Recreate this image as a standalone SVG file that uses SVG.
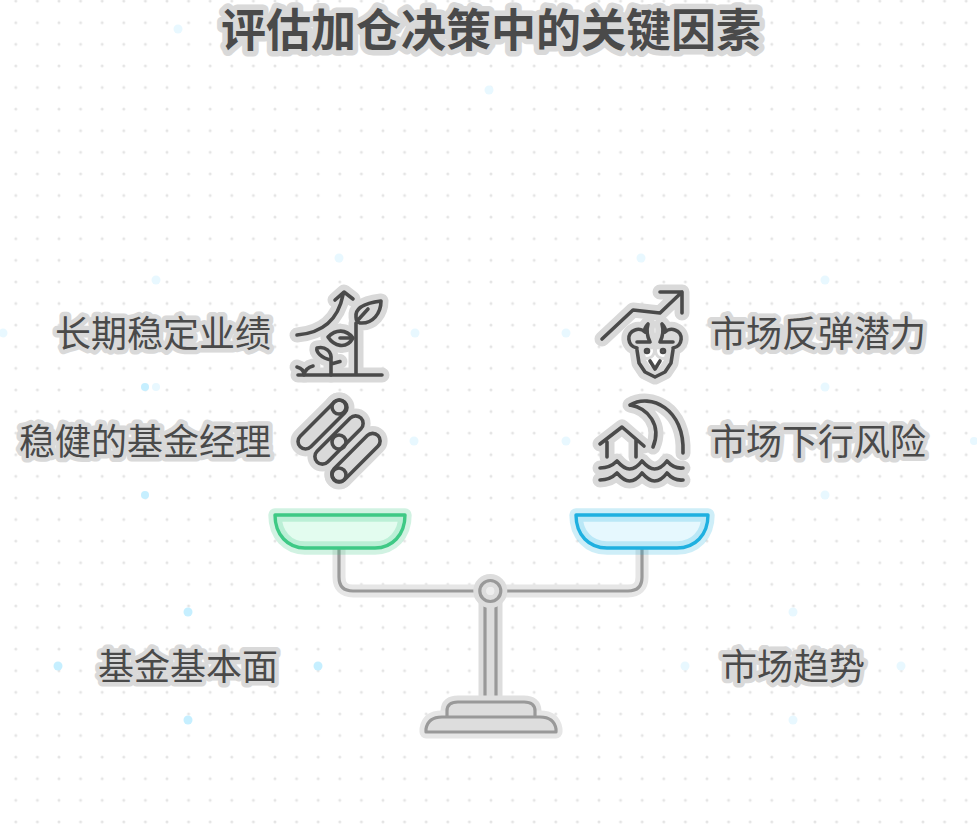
<svg xmlns="http://www.w3.org/2000/svg" width="977" height="829" viewBox="0 0 977 829">
<style>
text{font-family:"Noto Sans CJK SC","Noto Sans",sans-serif;fill:#4a4a4a;stroke:#d9d9d9;stroke-linejoin:round;paint-order:stroke;opacity:.999;}
.label{font-size:36px;stroke-width:9px;}
.title{font-size:45px;font-weight:700;stroke-width:11px;}
.shape{fill:none;stroke-linecap:round;stroke-linejoin:round;}
.halo{stroke:#d9d9d9;stroke-width:15px;}
.ink{stroke:#4a4a4a;stroke-width:3.6px;}
.gh{stroke:#e6e6e6;stroke-width:13px;}
.gi{stroke:#999;stroke-width:3.2px;}
.spark{fill:#c6efff;}
.sparkf{fill:#e8f8ff;}
</style>
<defs>
<pattern id="dots" width="21.6" height="21.6" patternUnits="userSpaceOnUse" x="5" y="1.1"><circle cx="10.8" cy="0" r="1.5" fill="#e4e4e4"/><circle cx="10.8" cy="21.6" r="1.5" fill="#e4e4e4"/></pattern>
<g id="i-plant">
<path d="M297,335 C322,333 338,320 343,295 M335,300 L344,292 L353,299"/>
<path d="M298,375 H382 M356,375 V323 M356,317 C355,308 365,303 381,301 C381,313 373,324 360,323 C357,322 356,320 356,317Z M358,320 L368,309"/>
<path d="M353,338 C346,329 336,329 328,337 C334,346 346,350 353,338Z M353,338 H340"/>
<path d="M331,375 V360 C321,358 316,352 317,348 C325,346 332,351 331,360 M331,364 L340,361.500"/>
<path d="M297,367 C301,368 304,371 304,375 C305,370 309,367 313,366"/>
</g>
<g id="i-pipes">
<rect x="291" y="417" width="63" height="15" rx="7.5" transform="rotate(-45 322.5 424.5)"/>
<rect x="308" y="432.500" width="62" height="15" rx="7.500" transform="rotate(-45 339 440)"/>
<rect x="325" y="450" width="62" height="15" rx="7.500" transform="rotate(-45 356 457.500)"/>
<circle cx="339" cy="407" r="7"/><circle cx="339" cy="442" r="7"/><circle cx="339" cy="475" r="7"/>
</g>
<g id="i-bull">
<path d="M602,339 L633,310 L660,313 L682,292 M660,292 H682 V313"/>
<path d="M637,350 L639,363 L645,372 L655,377 L665,372 L671,363 L673,350"/>
<path d="M637,348 C627,346 626,333 635,330 C640,328 644,331 645,332 C644,328 646,326 648,324 C646,331 648,338 650,342 H637"/>
<path d="M673,348 C683,346 684,333 675,330 C670,328 666,331 665,332 C666,328 664,326 662,324 C664,331 662,338 660,342 H673"/>
<circle cx="647" cy="351" r="1.500"/><circle cx="663" cy="351" r="1.500"/>
</g>
<g id="i-flood">
<path d="M630,405 C650,393 685,408 683,453 M630,405 C648,408 662,425 653,447"/>
<path d="M600,444 L622,427 L644,446 M607,442 V457 M636,440 V457"/>
<path d="M600,468 Q610,468 617,461 Q624,469 629.500,469 Q636,469 642,461 Q649,469 654.500,469 Q661,469 667,461 Q674,469 683,468"/>
<path d="M600,480 Q610,480 617,473 Q624,481 629.500,481 Q636,481 642,473 Q649,481 654.500,481 Q661,481 667,473 Q674,481 683,480"/>
</g>
</defs>
<rect width="977" height="829" fill="#fff"/>
<rect width="977" height="829" fill="url(#dots)"/>
<g id="sparkles">
<circle class="spark" cx="188" cy="612" r="4.500"/><circle class="spark" cx="188" cy="720" r="4.500"/><circle class="spark" cx="58" cy="666" r="4.500"/><circle class="spark" cx="318" cy="666" r="4.500"/>
<circle class="sparkf" cx="793" cy="612" r="4.500"/><circle class="sparkf" cx="793" cy="720" r="4.500"/><circle class="sparkf" cx="685" cy="666" r="4.500"/><circle class="sparkf" cx="901" cy="666" r="4.500"/>
<circle class="sparkf" cx="178" cy="29" r="4.500"/><circle class="sparkf" cx="489" cy="90" r="4.500"/><circle class="sparkf" cx="339" cy="258" r="4.500"/><circle class="sparkf" cx="156" cy="280" r="4.500"/><circle class="sparkf" cx="3" cy="333" r="4.500"/><circle class="sparkf" cx="415" cy="333" r="4.500"/><circle class="spark" cx="145" cy="387" r="4"/><circle class="sparkf" cx="156" cy="387" r="4"/><circle class="spark" cx="145" cy="495" r="4"/><circle class="sparkf" cx="414" cy="441" r="4.500"/><circle class="sparkf" cx="641" cy="258" r="4.500"/><circle class="sparkf" cx="566" cy="333" r="4.500"/><circle class="sparkf" cx="566" cy="441" r="4.500"/><circle class="sparkf" cx="825" cy="280" r="4.500"/><circle class="sparkf" cx="825" cy="387" r="4.500"/><circle class="sparkf" cx="825" cy="495" r="4.500"/><circle class="sparkf" cx="974" cy="441" r="4"/>
</g>
<text id="title" class="title" x="491" y="47" text-anchor="middle">评估加仓决策中的关键因素</text>
<g id="connectors">
<path class="shape gh" d="M339,548 V577 Q339,591 353,591 H628 Q642,591 642,577 V548"/>
<path class="shape gi" d="M339,548 V577 Q339,591 353,591 H628 Q642,591 642,577 V548"/>
</g>
<g id="stand">
<rect x="485" y="603" width="11" height="99" fill="#eee" stroke="#ddd" stroke-width="13" stroke-linejoin="round"/>
<rect x="485" y="603" width="11" height="99" fill="#ddd" stroke="#999" stroke-width="3.200"/>
<circle cx="490.300" cy="591" r="10.500" fill="#eee" stroke="#ddd" stroke-width="13"/>
<circle cx="490.300" cy="591" r="4" fill="#eee"/>
<circle cx="490.300" cy="591" r="10.500" fill="none" stroke="#999" stroke-width="3.200"/>
<path d="M447,716 V711 Q447,702 458,702 H524 Q535,702 535,711 V716Z" fill="#ddd" stroke="#e0e0e0" stroke-width="13" stroke-linejoin="round"/>
<path d="M426,732 V729 Q428,717 442,717 H540 Q554,717 556,729 V732Z" fill="#ddd" stroke="#e6e6e6" stroke-width="13" stroke-linejoin="round"/>
<path d="M447,716 V711 Q447,702 458,702 H524 Q535,702 535,711 V716" fill="#ddd" stroke="#999" stroke-width="3.200"/>
<path d="M426,732 V729 Q428,717 442,717 H540 Q554,717 556,729 V732Z" fill="#ddd" stroke="#999" stroke-width="3.200" stroke-linejoin="round"/>
</g>
<g id="pan-left">
<path d="M275,515 H405 C405,535 392,548 375,548 H305 C288,548 275,535 275,515Z" fill="#e3fcef" stroke="#3ec985" stroke-opacity=".24" stroke-width="13.400" stroke-linejoin="round"/>
<path d="M275,515 H405 C405,535 392,548 375,548 H305 C288,548 275,535 275,515Z" fill="none" stroke="#3ec985" stroke-width="3.400" stroke-linejoin="round"/>
</g>
<g id="pan-right">
<path d="M576,515 H708 C708,535 695,548 677,548 H607 C589,548 576,535 576,515Z" fill="#e6f8fe" stroke="#1fb0e0" stroke-opacity=".22" stroke-width="13.400" stroke-linejoin="round"/>
<path d="M576,515 H708 C708,535 695,548 677,548 H607 C589,548 576,535 576,515Z" fill="none" stroke="#1fb0e0" stroke-width="3.400" stroke-linejoin="round"/>
</g>
<g id="node-growth">
<use href="#i-plant" class="shape halo"/><use href="#i-plant" class="shape ink"/>
<text class="label" x="271" y="347" text-anchor="end">长期稳定业绩</text>
</g>
<g id="node-manager">
<use href="#i-pipes" class="shape halo"/><use href="#i-pipes" class="shape ink"/>
<text class="label" x="271" y="455" text-anchor="end">稳健的基金经理</text>
</g>
<g id="node-rebound">
<use href="#i-bull" class="shape halo"/>
<path d="M655,356 L660,360 L655,369 L650,360Z" fill="#fff"/>
<use href="#i-bull" class="shape ink"/>
<path class="shape ink" d="M650,361 L655,369 L660,361"/>
<text class="label" x="710" y="347">市场反弹潜力</text>
</g>
<g id="node-risk">
<use href="#i-flood" class="shape halo"/><use href="#i-flood" class="shape ink"/>
<text class="label" x="710" y="455">市场下行风险</text>
</g>
<g id="node-fundamentals"><text class="label" x="188" y="680" text-anchor="middle">基金基本面</text></g>
<g id="node-trend"><text class="label" x="793" y="680" text-anchor="middle">市场趋势</text></g>
</svg>
